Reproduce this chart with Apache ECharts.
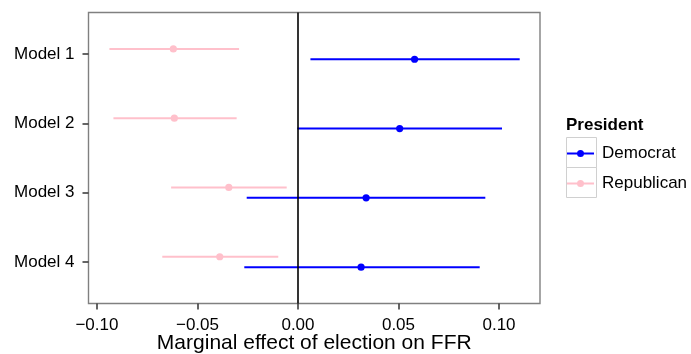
<!DOCTYPE html>
<html>
<head>
<meta charset="utf-8">
<script src="https://cdn.jsdelivr.net/npm/echarts@6/dist/echarts.min.js"></script>
<style>
  html, body { margin: 0; padding: 0; background: #fff; }
  #chart { width: 691px; height: 354px; }
</style>
</head>
<body>
<div id="chart"></div>
<script>
const models = ['Model 1', 'Model 2', 'Model 3', 'Model 4'];
const xTicks = [-0.1, -0.05, 0, 0.05, 0.1];

const demEst = [0.0580, 0.0506, 0.0339, 0.0314];
const demLow = [0.0062, -0.0003, -0.0255, -0.0267];
const demHigh = [0.1103, 0.1015, 0.0932, 0.0904];

const repEst = [-0.0620, -0.0615, -0.0344, -0.0389];
const repLow = [-0.0938, -0.0918, -0.0631, -0.0675];
const repHigh = [-0.0293, -0.0305, -0.0056, -0.0098];

const FONT = '"Liberation Sans", Arial, sans-serif';
const DEM = '#0000ff';
const REP = '#ffc0cb';

const rows = (lo, hi, est) => models.map((m, i) => [lo[i], hi[i], est[i], i + 1]);

// pointrange with a small vertical dodge
function pointRange(color, dodge) {
  return function (params, api) {
    const y = api.value(3) + dodge;
    const a = api.coord([api.value(0), y]);
    const b = api.coord([api.value(1), y]);
    const c = api.coord([api.value(2), y]);
    return {
      type: 'group',
      children: [
        { type: 'line', shape: { x1: a[0], y1: a[1], x2: b[0], y2: b[1] },
          style: { stroke: color, lineWidth: 2 } },
        { type: 'circle', shape: { cx: c[0], cy: c[1], r: 3.6 },
          style: { fill: color } }
      ]
    };
  };
}

const keyIcon = 'path://M0,2.5H27V4.5H0Z M10,3.5A3.5,3.5 0 1 1 17,3.5A3.5,3.5 0 1 1 10,3.5Z';

const chart = echarts.init(document.getElementById('chart'));
chart.setOption({
  animation: false,
  backgroundColor: '#fff',
  textStyle: { fontFamily: FONT },
  title: {
    text: 'President',
    left: 566,
    top: 117,
    padding: 0,
    textStyle: { fontFamily: FONT, fontSize: 17, fontWeight: 'bold', color: '#000' }
  },
  legend: {
    orient: 'vertical',
    left: 567,
    top: 145,
    padding: 0,
    itemWidth: 27,
    itemHeight: 7,
    itemGap: 13,
    textStyle: { fontFamily: FONT, fontSize: 17, color: '#000', padding: [0, 0, 0, 3] },
    data: [
      { name: 'Democrat', icon: keyIcon },
      { name: 'Republican', icon: keyIcon }
    ]
  },
  graphic: [
    { type: 'rect', shape: { x: 566.5, y: 137.5, width: 30, height: 30 },
      style: { fill: 'none', stroke: '#d0d0d0', lineWidth: 1 }, silent: true },
    { type: 'rect', shape: { x: 566.5, y: 167.5, width: 30, height: 30 },
      style: { fill: 'none', stroke: '#d0d0d0', lineWidth: 1 }, silent: true }
  ],
  grid: {
    left: 88.5,
    right: 151,
    top: 12.5,
    bottom: 50.5,
    containLabel: false,
    outerBoundsMode: 'none',
    show: true,
    borderColor: '#808080',
    borderWidth: 1.4,
    backgroundColor: '#fff'
  },
  xAxis: {
    type: 'value',
    min: -0.1042,
    max: 0.1204,
    name: 'Marginal effect of election on FFR',
    nameLocation: 'middle',
    nameGap: 29,
    nameMoveOverlap: false,
    nameTextStyle: { fontFamily: FONT, fontSize: 21, color: '#000' },
    axisLine: { show: false, onZero: false },
    splitLine: { show: false },
    axisTick: { show: true, length: 6, customValues: xTicks,
      lineStyle: { color: '#333', width: 1.5 } },
    axisLabel: {
      customValues: xTicks,
      margin: 13,
      fontSize: 17,
      fontFamily: FONT,
      color: '#000',
      formatter: v => (v < 0 ? '\u2212' : '') + Math.abs(v).toFixed(2)
    }
  },
  yAxis: {
    type: 'value',
    inverse: true,
    min: 0.4,
    max: 4.6,
    axisLine: { show: false, onZero: false },
    splitLine: { show: false },
    axisTick: { show: true, length: 6, customValues: [1, 2, 3, 4],
      lineStyle: { color: '#333', width: 1.5 } },
    axisLabel: {
      customValues: [1, 2, 3, 4],
      margin: 14,
      fontSize: 17,
      fontFamily: FONT,
      color: '#000',
      formatter: v => models[Math.round(v) - 1] || ''
    }
  },
  series: [
    {
      name: 'Democrat',
      type: 'custom',
      color: DEM,
      renderItem: pointRange(DEM, 0.075),
      encode: { x: [0, 1, 2], y: 3 },
      data: rows(demLow, demHigh, demEst),
      z: 3,
      markLine: {
        silent: true,
        symbol: 'none',
        label: { show: false },
        lineStyle: { color: '#000', width: 1.6, type: 'solid' },
        data: [{ xAxis: 0 }]
      }
    },
    {
      name: 'Republican',
      type: 'custom',
      color: REP,
      renderItem: pointRange(REP, -0.075),
      encode: { x: [0, 1, 2], y: 3 },
      data: rows(repLow, repHigh, repEst),
      z: 3
    }
  ]
});
</script>
</body>
</html>
